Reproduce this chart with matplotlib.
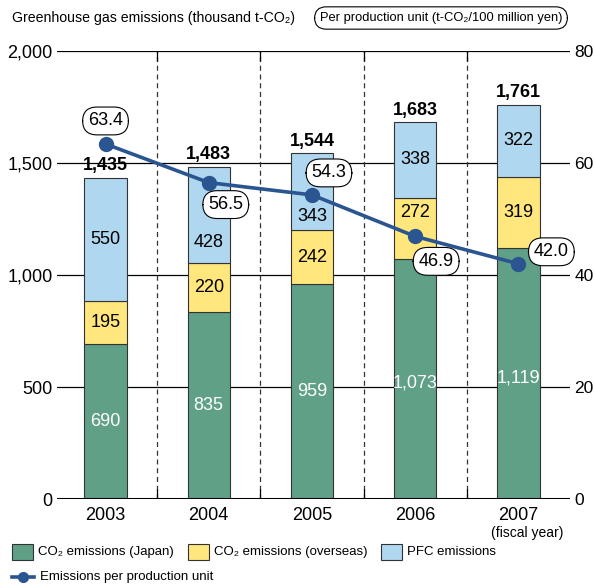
import matplotlib.pyplot as plt
from matplotlib.patches import Rectangle
from matplotlib.lines import Line2D

plt.rcParams['font.family'] = ['Liberation Sans', 'DejaVu Sans']

# data
years = ['2003', '2004', '2005', '2006', '2007']
co2_japan = [690, 835, 959, 1073, 1119]
co2_overseas = [195, 220, 242, 272, 319]
pfc = [550, 428, 343, 338, 322]
totals = [1435, 1483, 1544, 1683, 1761]
per_unit = [63.4, 56.5, 54.3, 46.9, 42.0]
# label nudges (data units / pixels) so labels keep clear of the line
pfc_label_shift = [0, -125, -110, 0, 0]
ov_label_shift = [0, 0, 0, 70, 0]
jp_label_shift = [0, 0, 0, -20, -20]
per_unit_offsets = [(0, 23), (17, -22), (17, 22), (21, -25), (33, 12)]

c_jp = '#5fa087'
c_ov = '#ffe67d'
c_pfc = '#afd7f0'
c_line = '#2b5590'

fig = plt.figure(figsize=(5.95, 5.85), dpi=100)
ax = fig.add_axes([57 / 595, 86 / 585, 513 / 595, 448 / 585])
x = list(range(len(years)))

# grid lines behind bars
for v in [500, 1000, 1500, 2000]:
    ax.axhline(v, color='black', lw=0.9, zorder=0)
ax.axhline(0, color='black', lw=2.2, zorder=4)
for xv in [0.5, 1.5, 2.5, 3.5]:
    ax.vlines(xv, 0, 2000, colors='#333333', lw=0.9, linestyles=(0, (4, 3)), zorder=0)
    ax.vlines(xv, 1955, 2000, colors='black', lw=0.9, zorder=0)
    ax.vlines(xv, 0, 45, colors='black', lw=0.9, zorder=0)

w = 0.41
bottom2 = [a + b for a, b in zip(co2_japan, co2_overseas)]
ax.bar(x, co2_japan, w, color=c_jp, edgecolor='#333333', lw=0.8, zorder=2)
ax.bar(x, co2_overseas, w, bottom=co2_japan, color=c_ov, edgecolor='#333333', lw=0.8, zorder=2)
ax.bar(x, pfc, w, bottom=bottom2, color=c_pfc, edgecolor='#333333', lw=0.8, zorder=2)

for i in x:
    ax.text(i, co2_japan[i] / 2 + jp_label_shift[i], f'{co2_japan[i]:,}', ha='center',
            va='center', color='white', fontsize=13, zorder=3)
    ax.text(i, co2_japan[i] + co2_overseas[i] / 2 + ov_label_shift[i], f'{co2_overseas[i]:,}',
            ha='center', va='center', color='black', fontsize=13, zorder=3)
    ax.text(i, bottom2[i] + pfc[i] / 2 + pfc_label_shift[i], f'{pfc[i]:,}', ha='center',
            va='center', color='black', fontsize=13, zorder=3)
    ax.text(i, totals[i] + 15, f'{totals[i]:,}', ha='center', va='bottom',
            fontsize=13, fontweight='bold', zorder=3)

ax.set_xlim(-0.47, 4.5)
ax.set_ylim(0, 2000)
ax.set_yticks([0, 500, 1000, 1500, 2000])
ax.set_yticklabels(['0', '500', '1,000', '1,500', '2,000'])
ax.set_xticks(x)
ax.set_xticklabels(years)
ax.tick_params(axis='both', length=0, labelsize=13)
ax.tick_params(axis='y', pad=3)
ax.tick_params(axis='x', pad=6)
for s in ax.spines.values():
    s.set_visible(False)

ax2 = ax.twinx()
ax2.set_ylim(0, 80)
ax2.set_yticks([0, 20, 40, 60, 80])
ax2.tick_params(axis='y', length=0, labelsize=12.5, pad=3)
for s in ax2.spines.values():
    s.set_visible(False)
ax2.plot(x, per_unit, color=c_line, lw=2.6, marker='o', ms=10, zorder=5)
for i in x:
    ax2.annotate(f'{per_unit[i]:.1f}', (i, per_unit[i]), xytext=per_unit_offsets[i],
                 textcoords='offset pixels', ha='center', va='center', fontsize=13,
                 bbox=dict(boxstyle='round,pad=0.3,rounding_size=0.8', fc='white',
                           ec='black', lw=0.8), zorder=6)

fig.text(12 / 595, 1 - 18 / 585, 'Greenhouse gas emissions (thousand t-CO₂)',
         fontsize=10.2, ha='left', va='center')
fig.text(441 / 595, 1 - 18 / 585, 'Per production unit (t-CO₂/100 million yen)',
         fontsize=9.3, ha='center', va='center',
         bbox=dict(boxstyle='round,pad=0.4,rounding_size=0.9', fc='white', ec='black', lw=0.8))
fig.text(527 / 595, 1 - 533 / 585, '(fiscal year)', fontsize=10, ha='center', va='center')

# legend
legend_items = [(12, c_jp, 'CO₂ emissions (Japan)'),
                (188, c_ov, 'CO₂ emissions (overseas)'),
                (381, c_pfc, 'PFC emissions')]
for px, col, lab in legend_items:
    fig.patches.append(Rectangle((px / 595, 1 - 560 / 585), 21 / 595, 16 / 585,
                                 transform=fig.transFigure, fc=col, ec='#333333', lw=0.8))
    fig.text((px + 26) / 595, 1 - 552 / 585, lab, fontsize=9.5, ha='left', va='center')
fig.lines.append(Line2D([12 / 595, 34 / 595], [1 - 577 / 585, 1 - 577 / 585],
                        transform=fig.transFigure, color=c_line, lw=2.6))
fig.lines.append(Line2D([23 / 595], [1 - 577 / 585], transform=fig.transFigure,
                        color=c_line, marker='o', ms=7))
fig.text(40 / 595, 1 - 577 / 585, 'Emissions per production unit', fontsize=9.5,
         ha='left', va='center')

fig.savefig('out.png', dpi=100)
